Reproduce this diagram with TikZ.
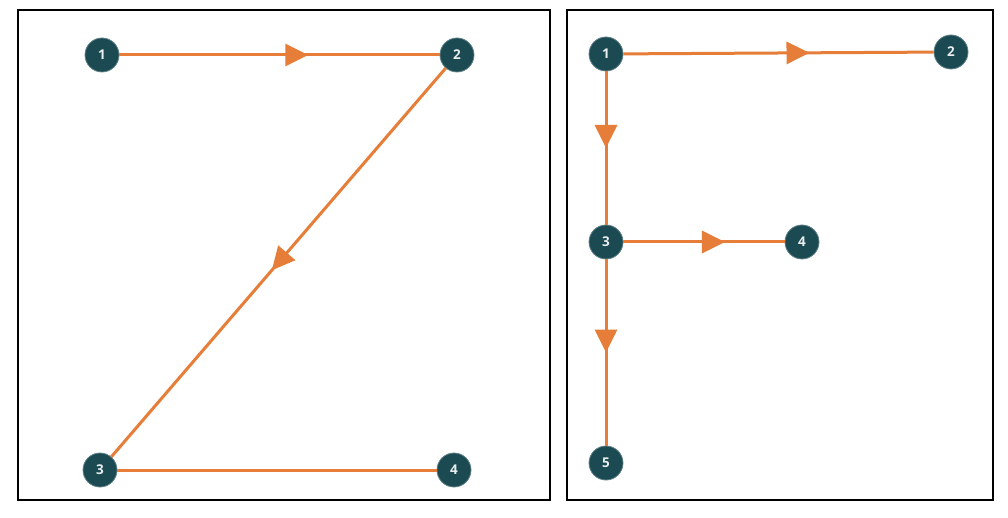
\documentclass[tikz,border=0pt]{standalone}
\usepackage{fontspec}
\setsansfont{Open Sans}
\usetikzlibrary{arrows.meta,decorations.markings}
\definecolor{teal}{HTML}{1B4A52}
\definecolor{orng}{HTML}{E67E3A}
\tikzset{
  pt/.style={circle, fill=teal, draw=teal!70!white, line width=0.8pt, minimum size=34pt, inner sep=0pt,
    text=white!90!teal, font=\sffamily\bfseries\fontsize{13.5}{13.5}\selectfont},
  conn/.style={draw=orng, line width=3pt},
  midarrow/.style={postaction={decorate}, decoration={markings,
    mark=at position #1 with {\arrow{Triangle[length=23pt,width=22pt]}}}},
  frame/.style={draw=black, line width=2pt}
}
\begin{document}
\begin{tikzpicture}[x=1pt,y=-1pt]
\useasboundingbox (0,0) rectangle (1008,518);
\fill[white] (0,0) rectangle (1008,518);
\draw[frame] (18,10) rectangle (550,500);
\draw[frame] (567,10) rectangle (993,500);
% Left panel (Z)
\node[pt] (a1) at (102,55) {1};
\node[pt] (a2) at (457,55) {2};
\node[pt] (a3) at (100,470) {3};
\node[pt] (a4) at (454,470) {4};
\path[conn, midarrow=0.59] (a1) -- (a2);
\path[conn, midarrow=0.52] (a2) -- (a3);
\path[conn] (a3) -- (a4);
% Right panel (F)
\node[pt] (b1) at (606,54) {1};
\node[pt] (b2) at (951,52) {2};
\node[pt] (b3) at (606,242) {3};
\node[pt] (b4) at (802,242) {4};
\node[pt] (b5) at (606,463) {5};
\path[conn, midarrow=0.60] (b1) -- (b2);
\path[conn, midarrow=0.50] (b1) -- (b3);
\path[conn, midarrow=0.63] (b3) -- (b4);
\path[conn, midarrow=0.50] (b3) -- (b5);
\end{tikzpicture}
\end{document}
